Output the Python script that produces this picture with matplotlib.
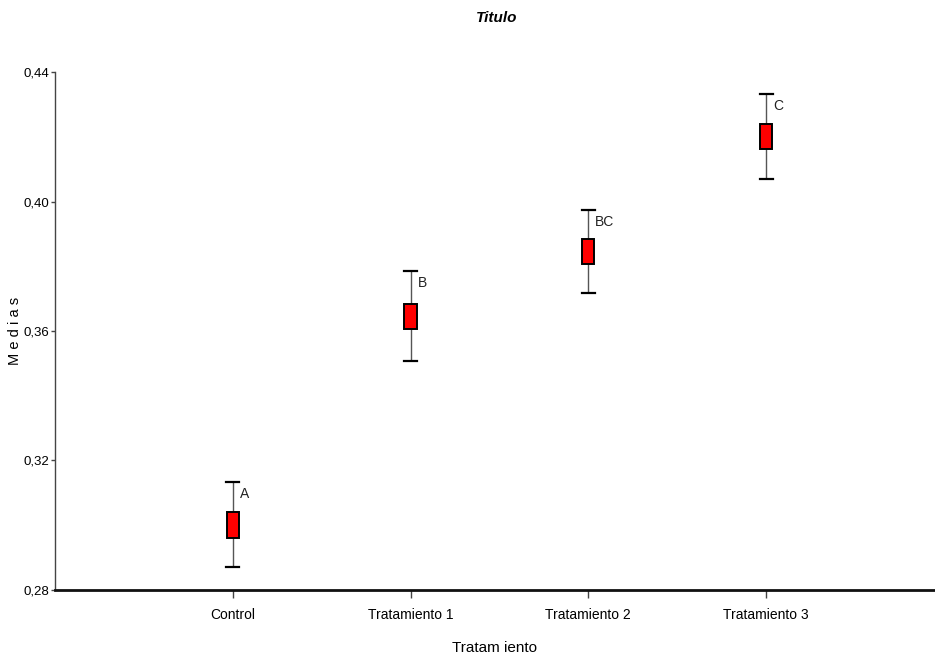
import matplotlib.pyplot as plt
import numpy as np

tratamientos = ['Control', 'Tratamiento 1', 'Tratamiento 2', 'Tratamiento 3']
medias = [0.3002, 0.3645, 0.3846, 0.4201]
error = [0.0132, 0.0139, 0.0128, 0.0131]
caja = [0.0040, 0.0039, 0.0039, 0.0039]
letras = ['A', 'B', 'BC', 'C']
yticks = [0.28, 0.32, 0.36, 0.40, 0.44]

plt.rcParams['font.family'] = ['Liberation Sans', 'DejaVu Sans']

fig = plt.figure(figsize=(9.35, 6.57), dpi=100)
ax = fig.add_axes([0.0588, 0.102, 0.9412, 0.7884])

x = np.arange(1, len(tratamientos) + 1)

ax.errorbar(x, medias, yerr=error, fmt='none', ecolor='#555555', elinewidth=1.0,
            capsize=0, zorder=2)
# caps in black
for xi, m, e in zip(x, medias, error):
    ax.plot([xi - 0.036, xi + 0.036], [m + e, m + e], color='black', lw=1.6, zorder=3)
    ax.plot([xi - 0.036, xi + 0.036], [m - e, m - e], color='black', lw=1.6, zorder=3)

ax.bar(x, [2 * c for c in caja], bottom=[m - c for m, c in zip(medias, caja)],
       width=0.068, color='#ff0000', edgecolor='black', linewidth=1.4, zorder=4)

for xi, m, e, l in zip(x, medias, error, letras):
    ax.annotate(l, xy=(xi, m + e), xytext=(7, -12), textcoords='offset pixels',
                ha='left', va='center', fontsize=10, color='#222222')

ax.set_xlim(0, 4.95)
ax.set_ylim(0.28, 0.44)
ax.set_xticks(x)
ax.set_xticklabels(tratamientos, fontsize=10)
ax.set_yticks(yticks)
ax.set_yticklabels([f'{v:.2f}'.replace('.', ',') for v in yticks], fontsize=9.5)

ax.spines['top'].set_visible(False)
ax.spines['right'].set_visible(False)
ax.spines['left'].set_color('#444444')
ax.spines['left'].set_linewidth(1.0)
ax.spines['bottom'].set_linewidth(2.0)
ax.spines['bottom'].set_color('#111111')
ax.tick_params(axis='y', length=3, width=1, pad=1, color='#444444')
ax.tick_params(axis='x', length=6, width=1, pad=7, color='#444444')

fig.text(0.016, 0.497, 'M e d i a s', rotation=90, ha='center', va='center', fontsize=10.5)
ax.set_xlabel('Tratam iento', fontsize=11, labelpad=14)
fig.text(0.5316, 0.972, 'Titulo', ha='center', va='center', fontsize=11,
         fontweight='bold', fontstyle='italic')

fig.savefig('out.png', dpi=100)
